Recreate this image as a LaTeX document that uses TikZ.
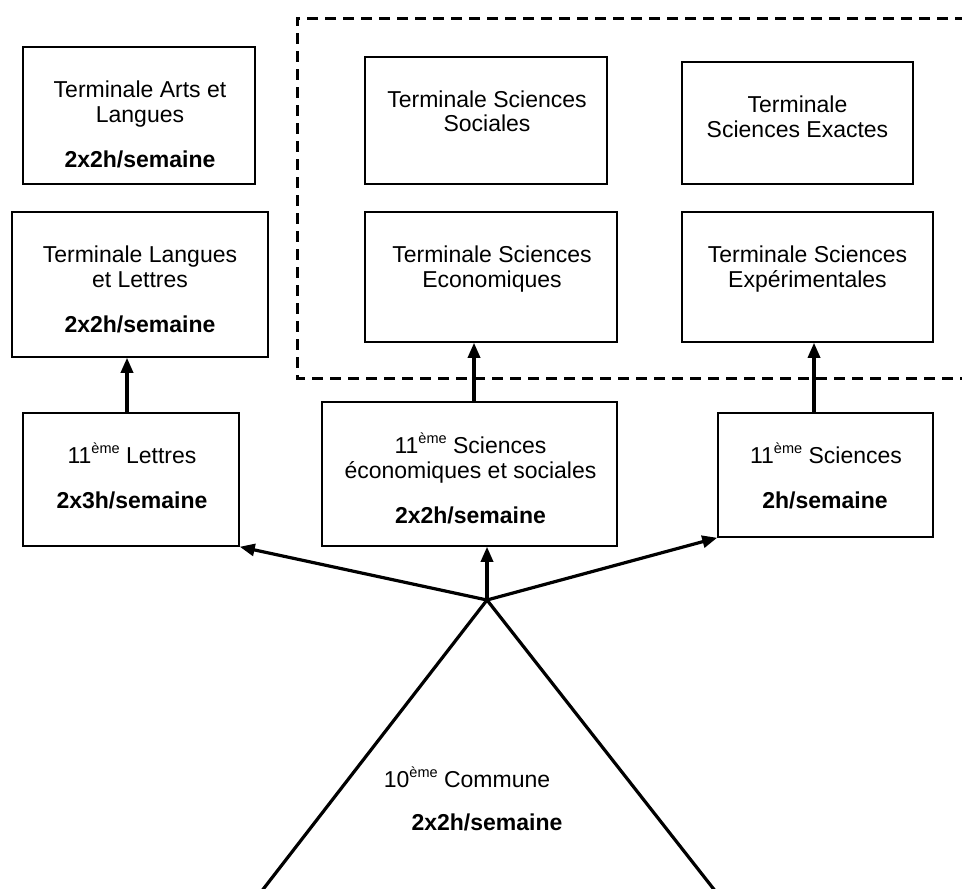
\documentclass[tikz,border=0pt]{standalone}
\usepackage{fontspec}
\setmainfont{Liberation Sans}
\usetikzlibrary{arrows.meta}
\newcommand{\myup}[1]{\raisebox{10pt}{\fontsize{14.5}{14.5}\selectfont #1}}
\begin{document}
\begin{tikzpicture}[x=1pt,y=-1pt,
  bx/.style={draw, line width=1.5pt, inner sep=0pt},
  txt/.style={inner sep=0pt, anchor=base, font=\fontsize{23}{25}\selectfont},
  bt/.style={txt, font=\fontsize{23}{25}\selectfont\bfseries},
  arr/.style={line width=3.2pt, -{Triangle[length=15pt,width=12pt]}},
  plain/.style={line width=3.2pt},
  dsh/.style={line width=3pt, dash pattern=on 11pt off 7pt}]
\useasboundingbox (0,0) rectangle (962,889);
\fill[white] (0,0) rectangle (962,889);

% dashed frame (open to the right edge)
\coordinate (dtr) at (966,18);
\coordinate (dtl) at (297,18);
\coordinate (dbl) at (297,378);
\coordinate (dbr) at (966,378);
\draw[dsh] (dtr) -- (dtl) -- (dbl) -- (dbr);

% boxes
\node[bx, minimum width=232pt, minimum height=137pt] (arts) at (139,115.5) {};
\node[bx, minimum width=256pt, minimum height=145pt] (ll) at (140,284.5) {};
\node[bx, minimum width=242pt, minimum height=127pt] (soc) at (486,120.5) {};
\node[bx, minimum width=231pt, minimum height=122pt] (exa) at (797.5,123) {};
\node[bx, minimum width=252pt, minimum height=130pt] (eco) at (491,277) {};
\node[bx, minimum width=251pt, minimum height=130pt] (exp) at (807.5,277) {};
\node[bx, minimum width=216pt, minimum height=133pt] (l11) at (131,479.5) {};
\node[bx, minimum width=295pt, minimum height=144pt] (ses) at (469.5,474) {};
\node[bx, minimum width=215pt, minimum height=124pt] (s11) at (825.5,475) {};

% texts
\node[txt] (arts1) at (140,97) {Terminale Arts et};
\node[txt] (arts2) at (140,122) {Langues};
\node[bt]  (arts3) at (140,167) {2x2h/semaine};

\node[txt] (ll1) at (140,262) {Terminale Langues};
\node[txt] (ll2) at (140,287) {et Lettres};
\node[bt]  (ll3) at (140,332) {2x2h/semaine};

\node[txt] (soc1) at (487,107) {Terminale Sciences};
\node[txt] (soc2) at (487,131) {Sociales};

\node[txt] (exa1) at (797.5,112) {Terminale};
\node[txt] (exa2) at (797.5,137) {Sciences Exactes};

\node[txt] (eco1) at (492,262) {Terminale Sciences};
\node[txt] (eco2) at (492,287) {Economiques};

\node[txt] (exp1) at (807.5,262) {Terminale Sciences};
\node[txt] (exp2) at (807.5,287) {Expérimentales};

\node[txt] (l111) at (132,463) {11\myup{ème} Lettres};
\node[bt]  (l112) at (132,508) {2x3h/semaine};

\node[txt] (ses1) at (470.5,453) {11\myup{ème} Sciences};
\node[txt] (ses2) at (470.5,478) {économiques et sociales};
\node[bt]  (ses3) at (470.5,523) {2x2h/semaine};

\node[txt] (s111) at (826,463) {11\myup{ème} Sciences};
\node[bt]  (s112) at (825,508) {2h/semaine};

\node[txt] (com1) at (467,787) {10\myup{ème} Commune};
\node[bt]  (com2) at (487,830) {2x2h/semaine};

% connectors
\coordinate (hub) at (487,600);
\coordinate (tl) at (261,892);
\coordinate (tr) at (716,892);
\draw[plain, line join=miter] (tl) -- (hub) -- (tr);
\draw[arr] (hub) -- (l11.south east);
\draw[arr] (hub) -- (hub |- ses.south);
\draw[arr] (hub) -- (s11.south west);

\draw[arr] ([xshift=-4pt]l11.north) -- ([xshift=-4pt]l11.north |- ll.south);
\draw[arr] ([xshift=4.5pt]ses.north) -- ([xshift=4.5pt]ses.north |- eco.south);
\draw[arr] ([xshift=-11.5pt]s11.north) -- ([xshift=-11.5pt]s11.north |- exp.south);
\end{tikzpicture}
\end{document}
